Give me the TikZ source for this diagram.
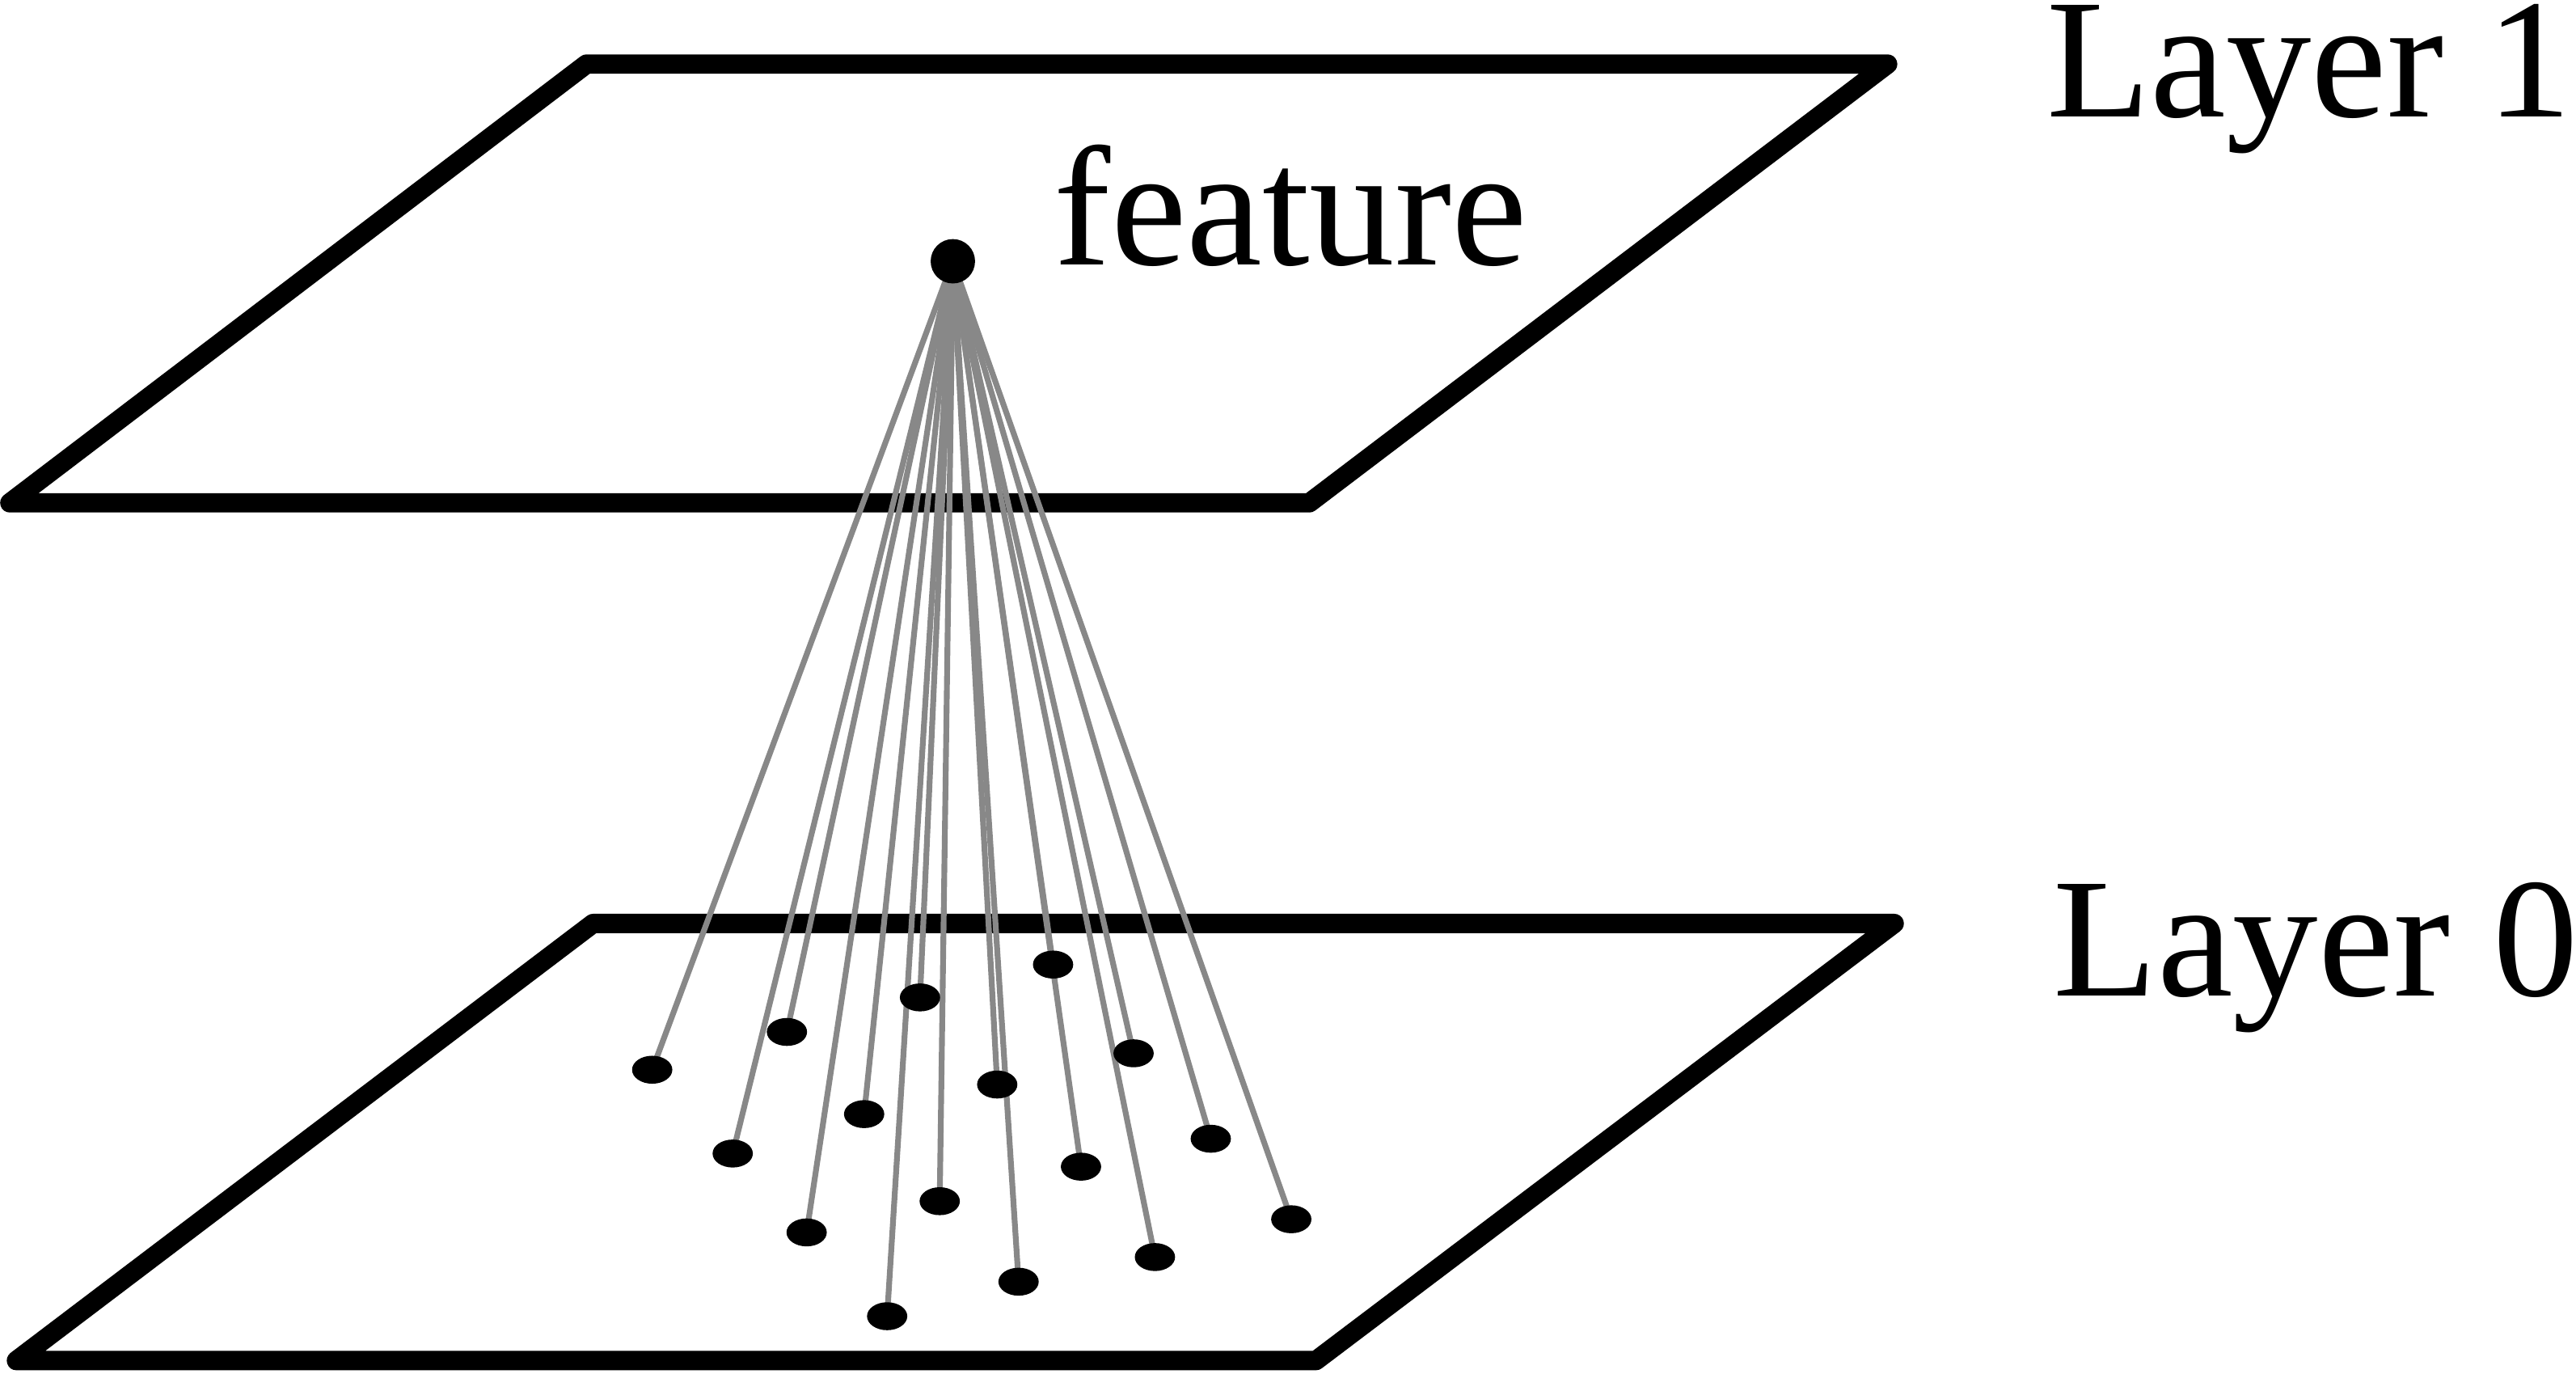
\documentclass[tikz,border=0pt]{standalone}
\usepackage{fontspec}
\setmainfont{Liberation Serif}
\usetikzlibrary{shapes.geometric}
\definecolor{raygray}{HTML}{888888}
\pgfdeclarelayer{planes}
\pgfdeclarelayer{rays}
\pgfsetlayers{planes,rays,main}
\begin{document}
\begin{tikzpicture}[x=0.01cm,y=-0.01cm,
    plane/.style={line width=3.35pt,line join=round,line cap=round},
    ray/.style={line width=1pt,raygray},
    featdot/.style={circle,fill=black,inner sep=0pt,minimum size=0.27cm},
    lowdot/.style={ellipse,fill=black,inner sep=0pt,minimum width=0.245cm,minimum height=0.17cm},
    layertext/.style={inner sep=0pt,anchor=base west,font=\fontsize{29.5}{30}\selectfont}]
    \useasboundingbox (0,0) rectangle (1568,836);
    % the two layers
    \begin{pgfonlayer}{planes}
    \draw[plane] (357,39) -- (1149,39) -- (797,306) -- (6,306) -- cycle;
    \draw[plane] (361,562) -- (1153,562) -- (801,828) -- (10,828) -- cycle;
    \end{pgfonlayer}
    \node[layertext] (layerone) at (1245,71) {Layer 1};
    \node[layertext] (layerzero) at (1249,606) {Layer 0};
    % feature and its inputs
    \node[featdot] (feat) at (580,159) {};
    \node[layertext] (featlabel) at (641,161) {feature};
    \foreach \i/\x/\y in {1/397/651, 2/446/702, 3/491/750, 4/540/801,
                          5/479/628, 6/526/678, 7/572/731, 8/560/607,
                          9/607/660, 10/620/780, 11/641/587, 12/658/710,
                          13/703/765, 14/690/641, 15/737/693, 16/786/742} {
        \node[lowdot] (d\i) at (\x,\y) {};
        \begin{pgfonlayer}{rays}
        \draw[ray] (feat.center) -- (d\i.center);
        \end{pgfonlayer}
    }
\end{tikzpicture}
\end{document}
